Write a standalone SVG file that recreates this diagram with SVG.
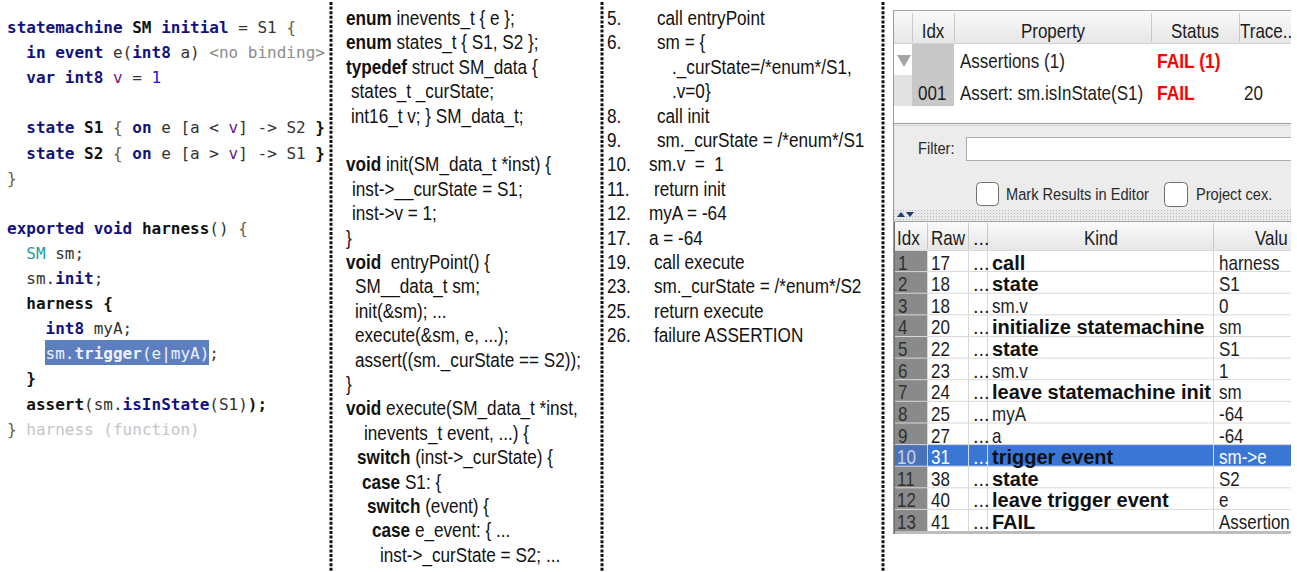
<svg xmlns="http://www.w3.org/2000/svg" width="1297" height="572" viewBox="0 0 1297 572">
<style>
.code{font-family:"DejaVu Sans Mono","Liberation Mono",monospace;font-size:16px;fill:#333}
.kw{fill:#12127e;font-weight:bold}
.bk{fill:#111;font-weight:bold}
.br{fill:#6e6045}
.var{fill:#6a1b86}
.num{fill:#1010ff}
.dim{fill:#8c8c8c}
.faint{fill:#c4c4c4}
.type{fill:#2a9a9a}
.sel{fill:#eef1fa}
.c{font-family:"Liberation Sans",Arial,sans-serif;font-size:19.5px;fill:#111}
.k{font-weight:bold}
.ui{font-family:"Liberation Sans",Arial,sans-serif;font-size:20px;fill:#1c1c1c}
.sm{font-size:17px;fill:#2a2a2a}
.uib{font-family:"Liberation Sans",Arial,sans-serif;font-size:20px;font-weight:bold;fill:#111}
.fail{fill:#f00;font-weight:bold}
.sep{stroke:#111;stroke-width:3;stroke-dasharray:3 1.6;fill:none}
.grid{stroke:#d8d8d8;stroke-width:1;fill:none}
.hsep{stroke:#c9c9c9;stroke-width:1}
.box{fill:#fff;stroke:#6f6f6f;stroke-width:1}
.hi{fill:#fff}
.idx{fill:#303030}
</style>
<defs>
  <linearGradient id="hdr" x1="0" y1="0" x2="0" y2="1">
    <stop offset="0" stop-color="#fafafa"/>
    <stop offset="1" stop-color="#e6e6e6"/>
  </linearGradient>
  <pattern id="dots" width="3" height="3" patternUnits="userSpaceOnUse">
    <rect width="3" height="3" fill="#e9e9e9"/>
    <rect width="1" height="1" fill="#b5b5b5"/>
  </pattern>
  <clipPath id="panelClip">
    <rect x="884" y="0" width="407" height="572"/>
  </clipPath>
</defs>

<rect width="1297" height="572" fill="#fff"/>

<!-- column separators -->
<g id="separators">
  <line class="sep" x1="331" y1="2" x2="331" y2="572"/>
  <line class="sep" x1="602" y1="2" x2="602" y2="572"/>
  <line class="sep" x1="883" y1="2" x2="883" y2="572"/>
</g>

<!-- statemachine source in the editor -->
<g id="editor" class="code">
  <rect x="45" y="340" width="164" height="25" fill="#5d7fc0"/>
  <text xml:space="preserve" x="7" y="33"><tspan class="kw">statemachine</tspan> <tspan class="bk">SM</tspan> <tspan class="kw">initial</tspan> = S1 <tspan class="br">{</tspan></text>
  <text xml:space="preserve" x="7" y="58.1">  <tspan class="kw">in event</tspan> e(<tspan class="kw">int8</tspan> a) <tspan class="dim">&lt;no binding&gt;</tspan></text>
  <text xml:space="preserve" x="7" y="83.2">  <tspan class="kw">var int8</tspan> <tspan class="var">v</tspan> = <tspan class="num">1</tspan></text>
  <text xml:space="preserve" x="7" y="133.4">  <tspan class="kw">state</tspan> <tspan class="bk">S1</tspan> <tspan class="br">{</tspan> <tspan class="kw">on</tspan> e [a &lt; <tspan class="var">v</tspan>] -&gt; S2 <tspan class="bk">}</tspan></text>
  <text xml:space="preserve" x="7" y="158.5">  <tspan class="kw">state</tspan> <tspan class="bk">S2</tspan> <tspan class="br">{</tspan> <tspan class="kw">on</tspan> e [a &gt; <tspan class="var">v</tspan>] -&gt; S1 <tspan class="bk">}</tspan></text>
  <text xml:space="preserve" x="7" y="183.6"><tspan class="br">}</tspan></text>
  <text xml:space="preserve" x="7" y="233.8"><tspan class="kw">exported void</tspan> <tspan class="bk">harness</tspan>() <tspan class="br">{</tspan></text>
  <text xml:space="preserve" x="7" y="258.9">  <tspan class="type">SM</tspan> sm;</text>
  <text xml:space="preserve" x="7" y="284">  sm.<tspan class="kw">init</tspan>;</text>
  <text xml:space="preserve" x="7" y="309.1">  <tspan class="bk">harness {</tspan></text>
  <text xml:space="preserve" x="7" y="334.2">    <tspan class="kw">int8</tspan> myA;</text>
  <text xml:space="preserve" x="7" y="359.3">    <tspan class="sel">sm.<tspan font-weight="bold">trigger</tspan>(e|myA)</tspan>;</text>
  <text xml:space="preserve" x="7" y="384.4">  <tspan class="bk">}</tspan></text>
  <text xml:space="preserve" x="7" y="409.5">  <tspan class="bk">assert</tspan>(sm.<tspan class="kw">isInState</tspan>(S1)<tspan class="bk">);</tspan></text>
  <text xml:space="preserve" x="7" y="434.6"><tspan class="br">}</tspan> <tspan class="faint">harness (function)</tspan></text>
</g>

<!-- generated C code -->
<g id="generated-c" class="c">
  <text xml:space="preserve" transform="translate(346 25) scale(.88 1)"><tspan class="k">enum</tspan> inevents_t { e };</text>
  <text xml:space="preserve" transform="translate(346 49.4) scale(.88 1)"><tspan class="k">enum</tspan> states_t { S1, S2 };</text>
  <text xml:space="preserve" transform="translate(346 73.8) scale(.88 1)"><tspan class="k">typedef</tspan> struct SM_data {</text>
  <text xml:space="preserve" transform="translate(351 98.2) scale(.88 1)">states_t _curState;</text>
  <text xml:space="preserve" transform="translate(351 122.6) scale(.88 1)">int16_t v; } SM_data_t;</text>
  <text xml:space="preserve" transform="translate(346 171.4) scale(.88 1)"><tspan class="k">void</tspan> init(SM_data_t *inst) {</text>
  <text xml:space="preserve" transform="translate(352 195.8) scale(.88 1)">inst-&gt;__curState = S1;</text>
  <text xml:space="preserve" transform="translate(352 220.2) scale(.88 1)">inst-&gt;v = 1;</text>
  <text xml:space="preserve" transform="translate(346 244.6) scale(.88 1)">}</text>
  <text xml:space="preserve" transform="translate(346 269) scale(.88 1)"><tspan class="k">void</tspan>  entryPoint() {</text>
  <text xml:space="preserve" transform="translate(355 293.4) scale(.88 1)">SM__data_t sm;</text>
  <text xml:space="preserve" transform="translate(355 317.8) scale(.88 1)">init(&amp;sm); ...</text>
  <text xml:space="preserve" transform="translate(355 342.2) scale(.88 1)">execute(&amp;sm, e, ...);</text>
  <text xml:space="preserve" transform="translate(355 366.6) scale(.88 1)">assert((sm._curState == S2));</text>
  <text xml:space="preserve" transform="translate(346 391) scale(.88 1)">}</text>
  <text xml:space="preserve" transform="translate(346 415.4) scale(.88 1)"><tspan class="k">void</tspan> execute(SM_data_t *inst,</text>
  <text xml:space="preserve" transform="translate(364 439.8) scale(.88 1)">inevents_t event, ...) {</text>
  <text xml:space="preserve" transform="translate(357 464.2) scale(.88 1)"><tspan class="k">switch</tspan> (inst-&gt;_curState) {</text>
  <text xml:space="preserve" transform="translate(362 488.6) scale(.88 1)"><tspan class="k">case</tspan> S1: {</text>
  <text xml:space="preserve" transform="translate(367 513) scale(.88 1)"><tspan class="k">switch</tspan> (event) {</text>
  <text xml:space="preserve" transform="translate(372 537.4) scale(.88 1)"><tspan class="k">case</tspan> e_event: { ...</text>
  <text xml:space="preserve" transform="translate(380 561.8) scale(.88 1)">inst-&gt;_curState = S2; ...</text>
</g>

<!-- counterexample trace steps -->
<g id="trace-steps" class="c">
  <text transform="translate(607 25) scale(.88 1)">5.</text>
  <text transform="translate(657 25) scale(.88 1)">call entryPoint</text>
  <text transform="translate(607 49.4) scale(.88 1)">6.</text>
  <text transform="translate(657 49.4) scale(.88 1)">sm = {</text>
  <text transform="translate(672 73.8) scale(.88 1)">._curState=/*enum*/S1,</text>
  <text transform="translate(672 98.2) scale(.88 1)">.v=0}</text>
  <text transform="translate(607 122.6) scale(.88 1)">8.</text>
  <text transform="translate(657 122.6) scale(.88 1)">call init</text>
  <text transform="translate(607 147) scale(.88 1)">9.</text>
  <text transform="translate(657 147) scale(.88 1)">sm._curState = /*enum*/S1</text>
  <text transform="translate(607 171.4) scale(.88 1)">10.</text>
  <text xml:space="preserve" transform="translate(649 171.4) scale(.88 1)">sm.v  =  1</text>
  <text transform="translate(607 195.8) scale(.88 1)">11.</text>
  <text transform="translate(654 195.8) scale(.88 1)">return init</text>
  <text transform="translate(607 220.2) scale(.88 1)">12.</text>
  <text transform="translate(649 220.2) scale(.88 1)">myA = -64</text>
  <text transform="translate(607 244.6) scale(.88 1)">17.</text>
  <text transform="translate(649 244.6) scale(.88 1)">a = -64</text>
  <text transform="translate(607 269) scale(.88 1)">19.</text>
  <text transform="translate(654 269) scale(.88 1)">call execute</text>
  <text transform="translate(607 293.4) scale(.88 1)">23.</text>
  <text transform="translate(654 293.4) scale(.88 1)">sm._curState = /*enum*/S2</text>
  <text transform="translate(607 317.8) scale(.88 1)">25.</text>
  <text transform="translate(654 317.8) scale(.88 1)">return execute</text>
  <text transform="translate(607 342.2) scale(.88 1)">26.</text>
  <text transform="translate(654 342.2) scale(.88 1)">failure ASSERTION</text>
</g>

<!-- verification results view -->
<g id="results-view" clip-path="url(#panelClip)">
  <!-- properties table -->
  <g id="properties-table">
    <rect x="894" y="11" width="403" height="32" fill="url(#hdr)"/>
    <line x1="893" y1="10.5" x2="1297" y2="10.5" stroke="#a5a5a5"/>
    <line class="hsep" x1="912.5" y1="13" x2="912.5" y2="42"/>
    <line class="hsep" x1="954.5" y1="13" x2="954.5" y2="42"/>
    <line class="hsep" x1="1151.5" y1="13" x2="1151.5" y2="42"/>
    <line class="hsep" x1="1239.5" y1="13" x2="1239.5" y2="42"/>
    <line x1="894" y1="43.5" x2="1297" y2="43.5" stroke="#d2d2d2"/>
    <text class="ui" text-anchor="middle" transform="translate(933 38) scale(.85 1)">Idx</text>
    <text class="ui" text-anchor="middle" transform="translate(1053 38) scale(.85 1)">Property</text>
    <text class="ui" text-anchor="middle" transform="translate(1195 38) scale(.85 1)">Status</text>
    <text class="ui" transform="translate(1240 38) scale(.85 1)">Trace..</text>

    <rect x="894" y="44" width="403" height="79" fill="#fff"/>
    <rect x="912" y="44" width="42" height="62" fill="#c8c8c8"/>
    <rect x="894" y="75" width="18" height="31" fill="#e2e2e2"/>
    <polygon points="897,55 911,55 904,67" fill="#a6a6a6"/>
    <text class="ui" transform="translate(960 68) scale(.85 1)">Assertions (1)</text>
    <text class="ui fail" transform="translate(1157 68) scale(.87 1)">FAIL (1)</text>
    <text class="ui" transform="translate(918 100) scale(.85 1)">001</text>
    <text class="ui" transform="translate(960 100) scale(.85 1)">Assert: sm.isInState(S1)</text>
    <text class="ui fail" transform="translate(1157 100) scale(.87 1)">FAIL</text>
    <text class="ui" transform="translate(1244 100) scale(.85 1)">20</text>
  </g>

  <!-- filter and options -->
  <g id="filter-bar">
    <rect x="894" y="124" width="403" height="86" fill="#ececec"/>
    <line x1="894" y1="123.5" x2="1297" y2="123.5" stroke="#9c9c9c"/>
    <line x1="894" y1="125.5" x2="1297" y2="125.5" stroke="#d4d4d4"/>
    <text class="ui sm" transform="translate(918 154) scale(.86 1)">Filter:</text>
    <rect x="966.5" y="137.5" width="330" height="23" fill="#fff" stroke="#acacac"/>
    <rect class="box" x="976.5" y="182.5" width="22" height="23" rx="4"/>
    <text class="ui sm" transform="translate(1006 200) scale(.86 1)">Mark Results in Editor</text>
    <rect class="box" x="1164.5" y="182.5" width="23" height="24" rx="4"/>
    <text class="ui sm" transform="translate(1196 200) scale(.86 1)">Project cex.</text>
  </g>

  <!-- splitter -->
  <g id="splitter">
    <rect x="894" y="210" width="403" height="11" fill="url(#dots)"/>
    <line x1="894" y1="221.5" x2="1297" y2="221.5" stroke="#a0a0a0"/>
    <polygon points="897,217 901,212 905,217" fill="#1e3c78"/>
    <polygon points="906,212 914,212 910,217" fill="#1e3c78"/>
  </g>

  <!-- trace table -->
  <g id="trace-table">
    <rect x="894" y="222" width="403" height="28" fill="url(#hdr)"/>
    <line class="hsep" x1="927.5" y1="223" x2="927.5" y2="249"/>
    <line class="hsep" x1="968.5" y1="223" x2="968.5" y2="249"/>
    <line class="hsep" x1="987.5" y1="223" x2="987.5" y2="249"/>
    <line class="hsep" x1="1213.5" y1="223" x2="1213.5" y2="249"/>
    <text class="ui" transform="translate(897 245) scale(.85 1)">Idx</text>
    <text class="ui" transform="translate(931 245) scale(.85 1)">Raw</text>
    <text class="ui" font-size="11" x="973" y="245">...</text>
    <text class="ui" text-anchor="middle" transform="translate(1101 245) scale(.85 1)">Kind</text>
    <text class="ui" transform="translate(1255 245) scale(.85 1)">Valu</text>

    <rect x="894" y="250" width="403" height="281" fill="#fff"/>
    <rect x="894" y="250" width="33" height="281" fill="#8a8a8a"/>
    <rect x="894" y="444.6" width="33" height="21.6" fill="#4a72b8"/>
    <rect x="927" y="444.6" width="370" height="21.6" fill="#3a76d4"/>
    <g class="grid">
      <line x1="894" y1="250.5" x2="1297" y2="250.5"/>
      <line x1="894" y1="271.6" x2="1297" y2="271.6"/>
      <line x1="894" y1="293.2" x2="1297" y2="293.2"/>
      <line x1="894" y1="314.9" x2="1297" y2="314.9"/>
      <line x1="894" y1="336.5" x2="1297" y2="336.5"/>
      <line x1="894" y1="358.1" x2="1297" y2="358.1"/>
      <line x1="894" y1="379.7" x2="1297" y2="379.7"/>
      <line x1="894" y1="401.3" x2="1297" y2="401.3"/>
      <line x1="894" y1="423" x2="1297" y2="423"/>
      <line x1="894" y1="444.6" x2="1297" y2="444.6"/>
      <line x1="894" y1="466.2" x2="1297" y2="466.2"/>
      <line x1="894" y1="487.8" x2="1297" y2="487.8"/>
      <line x1="894" y1="509.4" x2="1297" y2="509.4"/>
      <line x1="927.5" y1="250" x2="927.5" y2="531"/>
      <line x1="968.5" y1="250" x2="968.5" y2="531"/>
      <line x1="987.5" y1="250" x2="987.5" y2="531"/>
      <line x1="1213.5" y1="250" x2="1213.5" y2="531"/>
    </g>
    <rect x="893" y="531" width="404" height="3" fill="#bdbdbd"/>
    <line x1="894" y1="222" x2="894" y2="534" stroke="#707070" stroke-width="2"/>

    <!-- Idx column -->
    <g class="ui idx">
      <text transform="translate(898 269.5) scale(.85 1)">1</text>
      <text transform="translate(898 291.1) scale(.85 1)">2</text>
      <text transform="translate(898 312.7) scale(.85 1)">3</text>
      <text transform="translate(898 334.4) scale(.85 1)">4</text>
      <text transform="translate(898 356) scale(.85 1)">5</text>
      <text transform="translate(898 377.6) scale(.85 1)">6</text>
      <text transform="translate(898 399.2) scale(.85 1)">7</text>
      <text transform="translate(898 420.8) scale(.85 1)">8</text>
      <text transform="translate(898 442.5) scale(.85 1)">9</text>
      <text transform="translate(897 464.1) scale(.85 1)" fill="#c8d2ea">10</text>
      <text transform="translate(897 485.7) scale(.85 1)">11</text>
      <text transform="translate(897 507.3) scale(.85 1)">12</text>
      <text transform="translate(897 528.9) scale(.85 1)">13</text>
    </g>
    <!-- Raw column -->
    <g class="ui">
      <text transform="translate(931 269.5) scale(.85 1)">17</text>
      <text transform="translate(931 291.1) scale(.85 1)">18</text>
      <text transform="translate(931 312.7) scale(.85 1)">18</text>
      <text transform="translate(931 334.4) scale(.85 1)">20</text>
      <text transform="translate(931 356) scale(.85 1)">22</text>
      <text transform="translate(931 377.6) scale(.85 1)">23</text>
      <text transform="translate(931 399.2) scale(.85 1)">24</text>
      <text transform="translate(931 420.8) scale(.85 1)">25</text>
      <text transform="translate(931 442.5) scale(.85 1)">27</text>
      <text class="hi" transform="translate(931 464.1) scale(.85 1)">31</text>
      <text transform="translate(931 485.7) scale(.85 1)">38</text>
      <text transform="translate(931 507.3) scale(.85 1)">40</text>
      <text transform="translate(931 528.9) scale(.85 1)">41</text>
    </g>
    <!-- ellipsis column -->
    <g class="ui" font-size="11">
      <text x="973" y="269.5">...</text>
      <text x="973" y="291.1">...</text>
      <text x="973" y="312.7">...</text>
      <text x="973" y="334.4">...</text>
      <text x="973" y="356">...</text>
      <text x="973" y="377.6">...</text>
      <text x="973" y="399.2">...</text>
      <text x="973" y="420.8">...</text>
      <text x="973" y="442.5">...</text>
      <text x="973" y="464.1" class="hi">...</text>
      <text x="973" y="485.7">...</text>
      <text x="973" y="507.3">...</text>
      <text x="973" y="528.9">...</text>
    </g>
    <!-- Kind column -->
    <g>
      <text class="uib" x="992" y="269.5">call</text>
      <text class="uib" x="992" y="291.1">state</text>
      <text class="ui" transform="translate(992 312.7) scale(.85 1)">sm.v</text>
      <text class="uib" x="992" y="334.4">initialize statemachine</text>
      <text class="uib" x="992" y="356">state</text>
      <text class="ui" transform="translate(992 377.6) scale(.85 1)">sm.v</text>
      <text class="uib" x="992" y="399.2">leave statemachine init</text>
      <text class="ui" transform="translate(992 420.8) scale(.85 1)">myA</text>
      <text class="ui" transform="translate(992 442.5) scale(.85 1)">a</text>
      <text class="uib" x="992" y="464.1" fill="#fff">trigger event</text>
      <text class="uib" x="992" y="485.7">state</text>
      <text class="uib" x="992" y="507.3">leave trigger event</text>
      <text class="uib" x="992" y="528.9">FAIL</text>
    </g>
    <!-- Value column -->
    <g class="ui">
      <text transform="translate(1219 269.5) scale(.85 1)">harness</text>
      <text transform="translate(1219 291.1) scale(.85 1)">S1</text>
      <text transform="translate(1219 312.7) scale(.85 1)">0</text>
      <text transform="translate(1219 334.4) scale(.85 1)">sm</text>
      <text transform="translate(1219 356) scale(.85 1)">S1</text>
      <text transform="translate(1219 377.6) scale(.85 1)">1</text>
      <text transform="translate(1219 399.2) scale(.85 1)">sm</text>
      <text transform="translate(1219 420.8) scale(.85 1)">-64</text>
      <text transform="translate(1219 442.5) scale(.85 1)">-64</text>
      <text class="hi" transform="translate(1219 464.1) scale(.85 1)">sm-&gt;e</text>
      <text transform="translate(1219 485.7) scale(.85 1)">S2</text>
      <text transform="translate(1219 507.3) scale(.85 1)">e</text>
      <text transform="translate(1219 528.9) scale(.85 1)">Assertion</text>
    </g>
  </g>
  <line x1="893.5" y1="10" x2="893.5" y2="534" stroke="#9a9a9a"/>
</g>
</svg>
